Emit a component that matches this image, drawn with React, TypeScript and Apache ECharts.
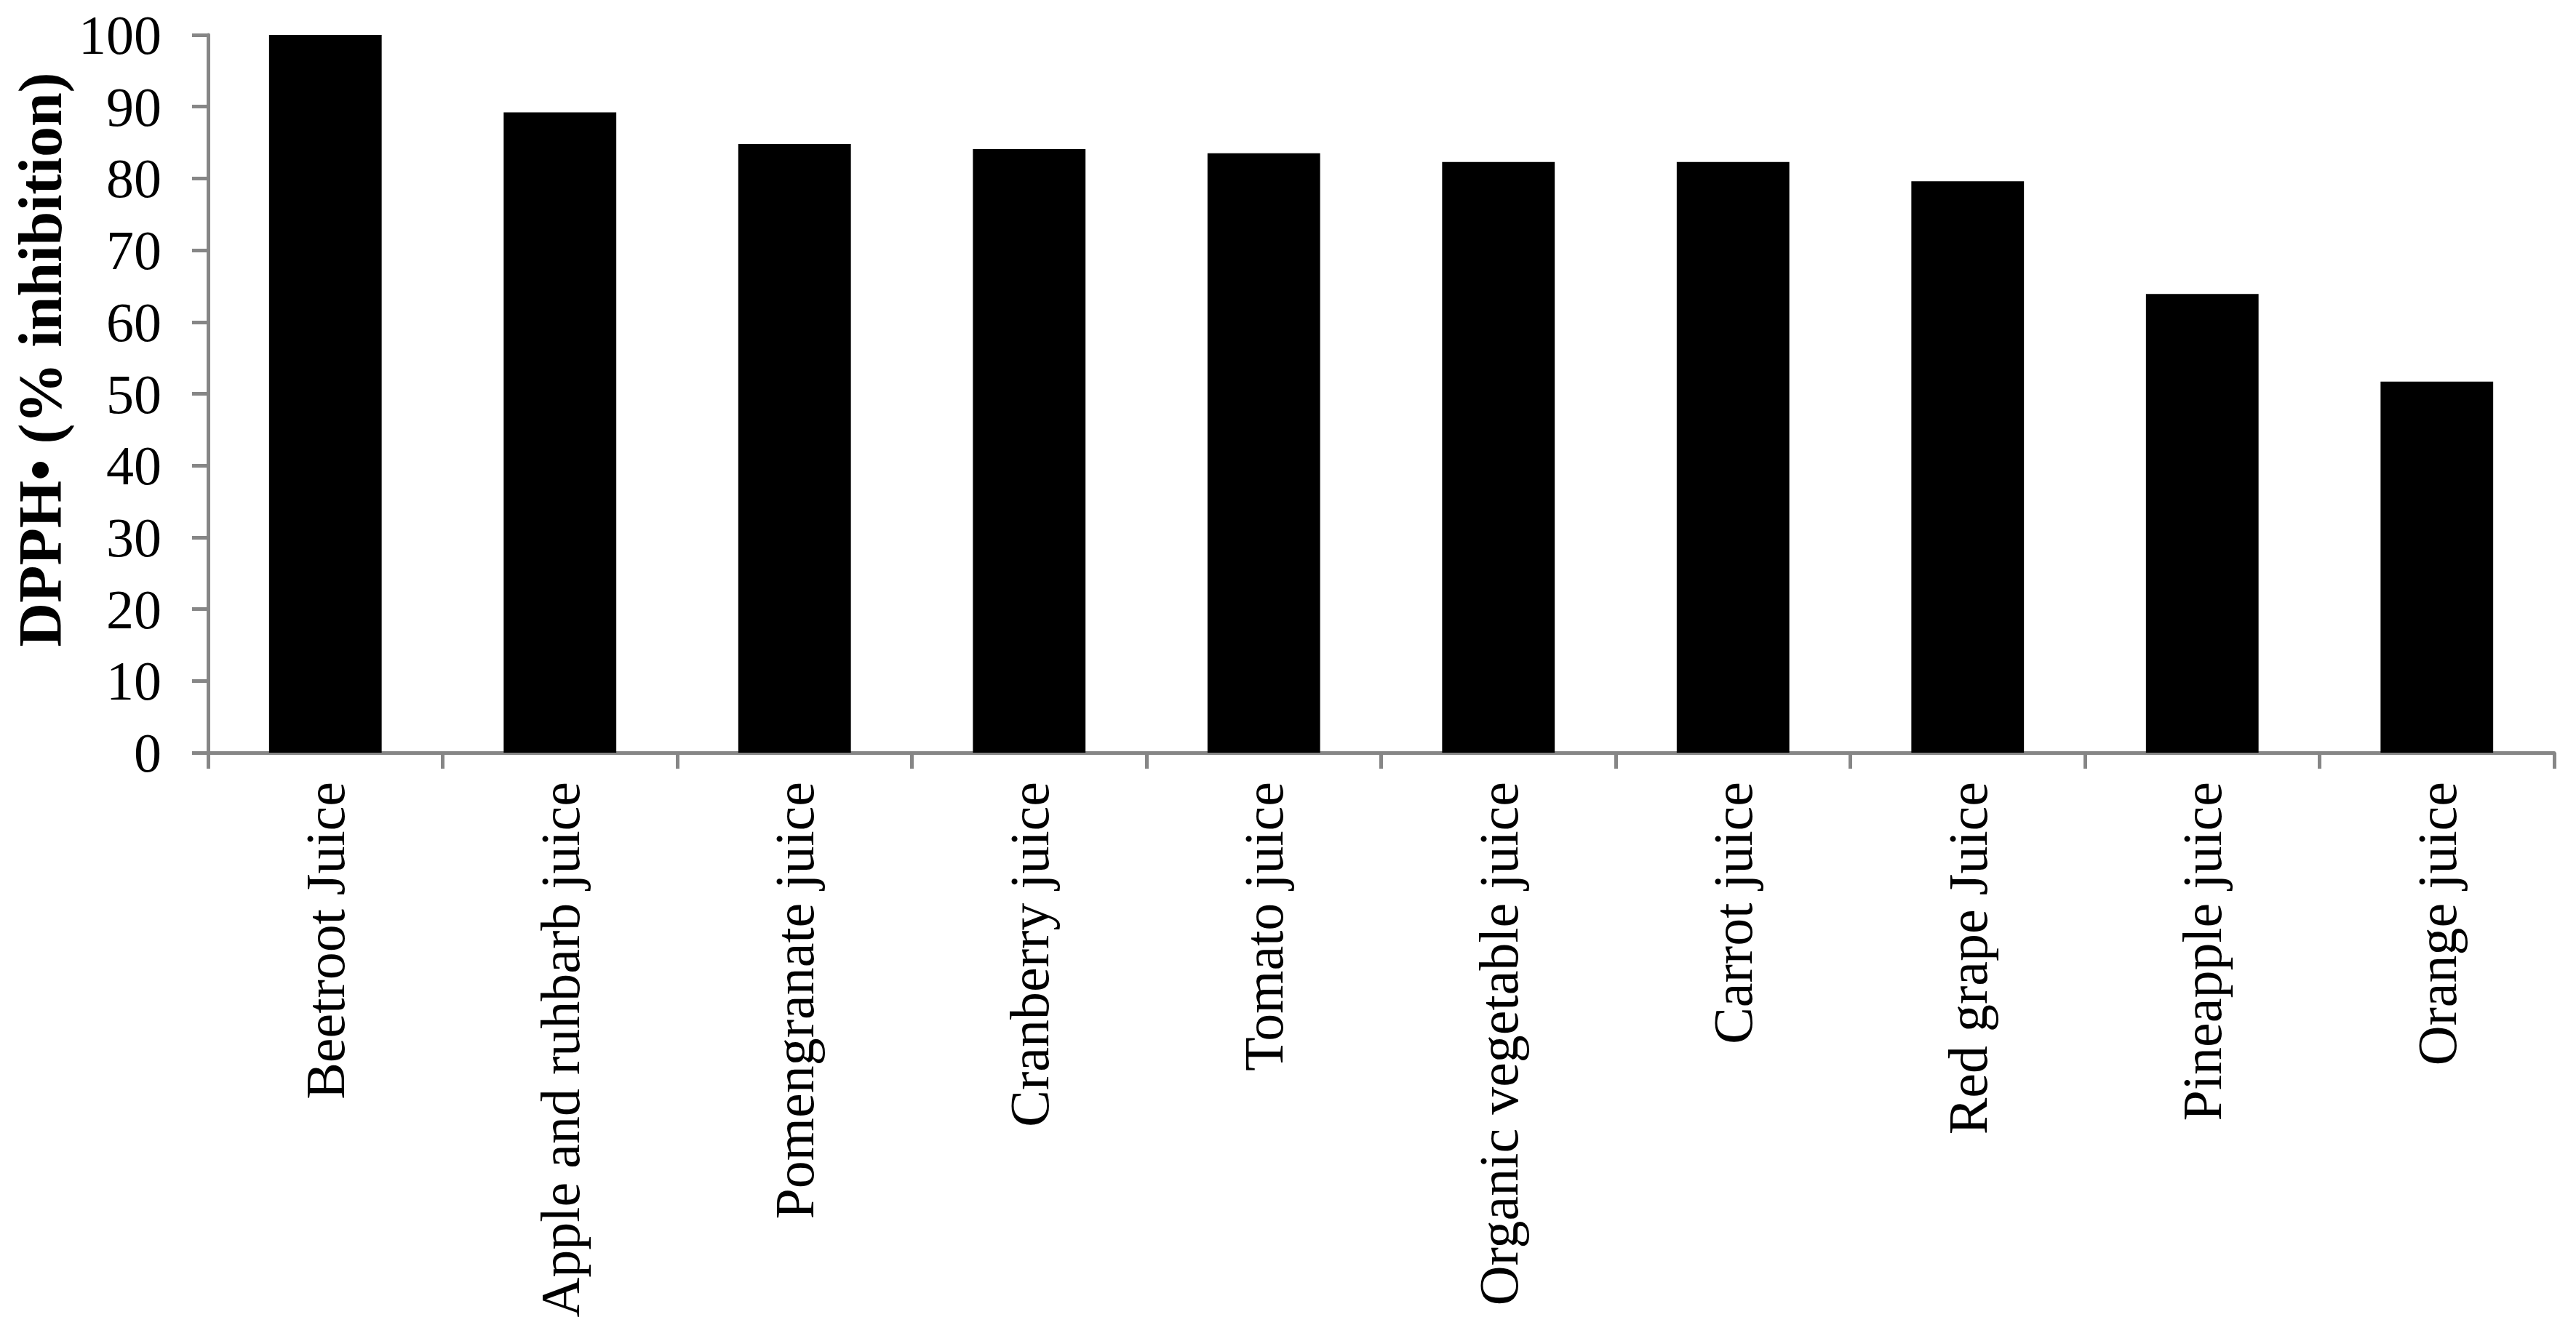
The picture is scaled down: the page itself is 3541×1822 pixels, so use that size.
import React, { useEffect, useRef } from "react";
import * as echarts from "echarts";

const categories = [
  "Beetroot Juice",
  "Apple and ruhbarb juice",
  "Pomengranate juice",
  "Cranberry juice",
  "Tomato juice",
  "Organic vegetable juice",
  "Carrot juice",
  "Red grape Juice",
  "Pineapple juice",
  "Orange juice",
];
const inhibition = [100, 89.2, 84.8, 84.1, 83.5, 82.3, 82.3, 79.6, 63.9, 51.7];
const yTicks = { min: 0, max: 100, interval: 10 };

const AXIS_GREY = "#868686";
const FONT = "'Liberation Serif', 'Times New Roman', serif";

export default function App() {
  const ref = useRef<HTMLDivElement>(null);
  useEffect(() => {
    document.body.style.margin = "0";
    const chart = echarts.init(ref.current!, null, { renderer: "svg" });
    chart.setOption({
      animation: false,
      backgroundColor: "#ffffff",
      grid: {
        left: 286,
        right: 30,
        top: 48,
        bottom: 787,
        containLabel: false,
        outerBoundsMode: "none",
      },
      xAxis: {
        type: "category",
        data: categories,
        axisLine: { show: true, lineStyle: { color: AXIS_GREY, width: 5 } },
        axisTick: { show: true, length: 22, lineStyle: { color: AXIS_GREY, width: 5 } },
        axisLabel: {
          rotate: 90,
          margin: 40,
          color: "#000",
          fontFamily: FONT,
          fontSize: 76,
          interval: 0,
        },
        splitLine: { show: false },
      },
      yAxis: {
        type: "value",
        min: yTicks.min,
        max: yTicks.max,
        interval: yTicks.interval,
        name: "DPPH• (% inhibition)",
        nameLocation: "middle",
        nameGap: 184,
        nameTextStyle: {
          color: "#000",
          fontFamily: FONT,
          fontSize: 84,
          fontWeight: "bold",
          padding: [0, 0, 0, 94],
        },
        axisLine: { show: true, lineStyle: { color: AXIS_GREY, width: 5 } },
        axisTick: { show: true, length: 22, lineStyle: { color: AXIS_GREY, width: 5 } },
        axisLabel: {
          margin: 64,
          color: "#000",
          fontFamily: FONT,
          fontSize: 76,
        },
        splitLine: { show: false },
      },
      series: [
        {
          type: "bar",
          data: inhibition,
          barWidth: "48%",
          itemStyle: { color: "#000000" },
        },
      ],
    });
    return () => chart.dispose();
  }, []);
  return <div ref={ref} style={{ width: 3541, height: 1822 }} />;
}
